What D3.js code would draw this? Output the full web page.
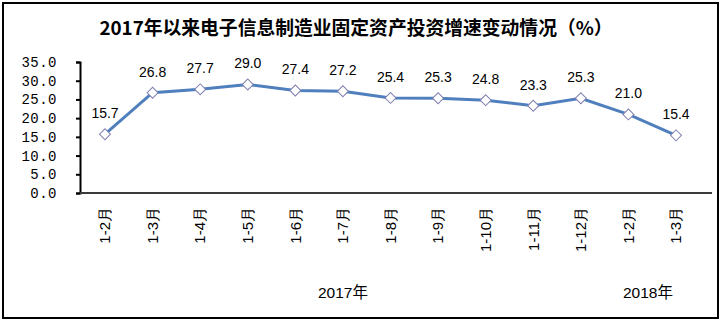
<!DOCTYPE html>
<html>
<head>
<meta charset="utf-8">
<script src="https://cdn.jsdelivr.net/npm/d3@7"></script>
<style>
  html, body { margin: 0; padding: 0; background: #fff; }
  svg { display: block; }
</style>
</head>
<body>
<svg id="chart" width="724" height="325"></svg>
<script>
// Fixed-asset investment growth in electronics manufacturing, cumulative y/y (%)
const periods = ["1-2月", "1-3月", "1-4月", "1-5月", "1-6月", "1-7月", "1-8月",
                 "1-9月", "1-10月", "1-11月", "1-12月", "1-2月", "1-3月"];
const growth = [15.7, 26.8, 27.7, 29.0, 27.4, 27.2, 25.4, 25.3, 24.8, 23.3, 25.3, 21.0, 15.4];
const yTicks = [0, 5, 10, 15, 20, 25, 30, 35];
const years = ["2017年", "2018年"];
const title = "2017年以来电子信息制造业固定资产投资增速变动情况（%）";

const svg = d3.select("#chart");

// frame
svg.append("rect")
  .attr("x", 3).attr("y", 3).attr("width", 715).attr("height", 315)
  .attr("fill", "#fff").attr("stroke", "#000").attr("stroke-width", 2);

svg.append("text")
  .attr("x", 356).attr("y", 35)
  .attr("text-anchor", "middle")
  .attr("font-family", "'Noto Sans CJK SC', sans-serif")
  .attr("font-weight", "bold")
  .attr("font-size", 18.8)
  .text(title);

const plot = { left: 80, right: 712, top: 62, bottom: 193 };

const idx = d3.range(periods.length);
const x = d3.scalePoint()
  .domain(idx)
  .range([105, 676]);

const y = d3.scaleLinear()
  .domain([0, 35])
  .range([plot.bottom, plot.top]);

// y axis
const yAxis = svg.append("g")
  .attr("transform", `translate(${plot.left},0)`)
  .call(d3.axisLeft(y).tickValues(yTicks).tickSize(4).tickPadding(19)
    .tickFormat(d3.format(".1f")));
yAxis.select(".domain").attr("stroke", "#000").attr("stroke-width", 2);
yAxis.selectAll(".tick line").attr("stroke", "#000").attr("stroke-width", 2);
yAxis.selectAll(".tick text")
  .attr("font-family", "'Liberation Mono', monospace")
  .attr("font-size", 14)
  .attr("letter-spacing", 0.5)
  .attr("fill", "#000");

// x axis baseline
svg.append("line")
  .attr("x1", plot.left).attr("x2", plot.right)
  .attr("y1", y(0)).attr("y2", y(0))
  .attr("stroke", "#3a3a3a").attr("stroke-width", 2);

// category labels (rotated)
svg.append("g").selectAll("text")
  .data(idx)
  .join("text")
  .attr("transform", i => `translate(${x(i)},207) rotate(-90)`)
  .attr("dy", "0.35em")
  .attr("text-anchor", "end")
  .attr("font-family", "'Liberation Sans', Arial, sans-serif")
  .attr("font-size", 15)
  .text(i => periods[i]);

// year labels
svg.append("g").selectAll("text")
  .data(years)
  .join("text")
  .attr("x", (d, k) => k === 0 ? 343 : 648)
  .attr("y", 298)
  .attr("text-anchor", "middle")
  .attr("font-family", "'Liberation Sans', 'Noto Sans CJK SC', sans-serif")
  .attr("font-size", 15.5)
  .text(d => d);

// series line
const line = d3.line().x(i => x(i)).y(i => y(growth[i]));
svg.append("path")
  .datum(idx)
  .attr("d", line)
  .attr("fill", "none")
  .attr("stroke", "#4f7fbc")
  .attr("stroke-width", 3);

// diamond markers
svg.append("g").selectAll("path")
  .data(idx)
  .join("path")
  .attr("transform", i => `translate(${x(i)},${y(growth[i])}) rotate(45)`)
  .attr("d", d3.symbol().type(d3.symbolSquare).size(60))
  .attr("fill", "#fff")
  .attr("stroke", "#7f7fb0")
  .attr("stroke-width", 1);

// value labels
svg.append("g").selectAll("text")
  .data(idx)
  .join("text")
  .attr("x", i => x(i))
  .attr("y", i => y(growth[i]) - 16)
  .attr("text-anchor", "middle")
  .attr("font-family", "'Liberation Sans', Arial, sans-serif")
  .attr("font-size", 14)
  .text(i => growth[i].toFixed(1));
</script>
</body>
</html>
